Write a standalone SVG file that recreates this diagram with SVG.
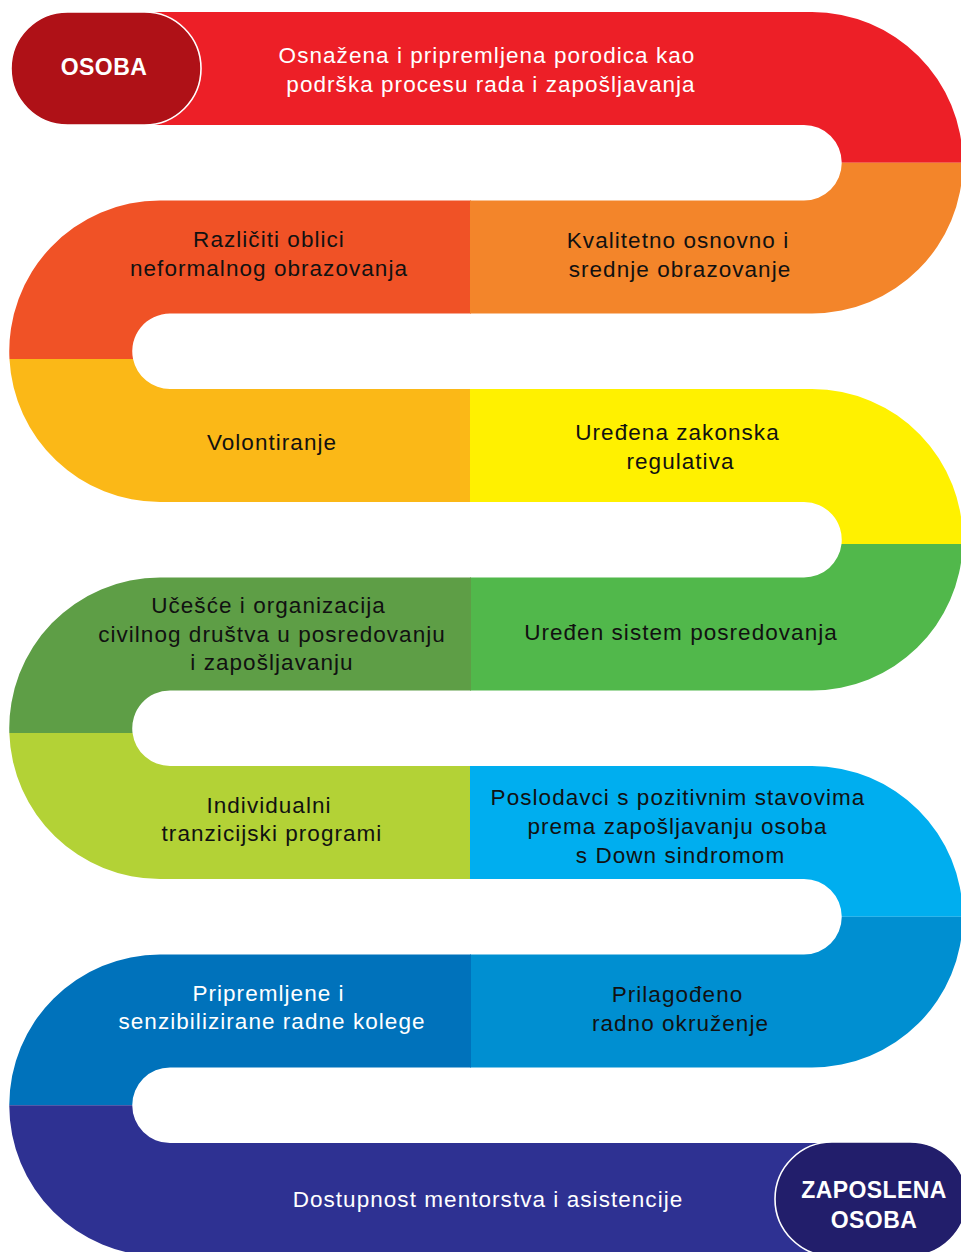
<svg xmlns="http://www.w3.org/2000/svg" width="961" height="1252" viewBox="0 0 961 1252">
<style>
.t{font-family:"Liberation Sans",Arial,Helvetica,sans-serif;font-size:22.5px;letter-spacing:1.05px;text-anchor:middle}
.w{fill:#ffffff}
.k{fill:#111111}
.b{font-family:"Liberation Sans",Arial,Helvetica,sans-serif;font-size:23px;font-weight:bold;letter-spacing:0.4px;text-anchor:middle;fill:#ffffff}
.pill{stroke:#ffffff;stroke-width:1.6}
</style>
<rect width="961" height="1252" fill="#ffffff"/>

<g id="row0-osnazena">
<path d="M150,12 H812 A150.75 150.75 0 0 1 962.75,162.75 H841.75 A37.75 37.75 0 0 0 804,125 H150 Z" fill="#ED1F27"/>
<text class="t w" x="487" y="63">Osnažena i pripremljena porodica kao</text>
<text class="t w" x="491" y="91.5">podrška procesu rada i zapošljavanja</text>
</g>

<g id="start-osoba">
<rect class="pill" x="11" y="12" width="190" height="113" rx="56.5" fill="#AF1117"/>
<text class="b" x="104" y="75">OSOBA</text>
</g>

<g id="row1-left-neformalno">
<path d="M471,200.5 H160 A150.75 150.75 0 0 0 9.45,359 H133.05 A37.75 37.75 0 0 1 170,313.5 H471 Z" fill="#F05226"/>
<text class="t k" x="269" y="246.5">Različiti oblici</text>
<text class="t k" x="269" y="275.5">neformalnog obrazovanja</text>
</g>

<g id="row1-right-obrazovanje">
<path d="M962.75,162.75 A150.75 150.75 0 0 1 812,313.5 H470 V200.5 H804 A37.75 37.75 0 0 0 841.75,162.75 Z" fill="#F3852A"/>
<text class="t k" x="678" y="248">Kvalitetno osnovno i</text>
<text class="t k" x="680" y="277">srednje obrazovanje</text>
</g>

<g id="row2-left-volontiranje">
<path d="M9.45,359 A150.75 150.75 0 0 0 160,502 H471 V389 H170 A37.75 37.75 0 0 1 133.05,359 Z" fill="#FBB817"/>
<text class="t k" x="272" y="450">Volontiranje</text>
</g>

<g id="row2-right-regulativa">
<path d="M470,389 H812 A150.75 150.75 0 0 1 962.69,544 H841.51 A37.75 37.75 0 0 0 804,502 H470 Z" fill="#FFF100"/>
<text class="t k" x="677.5" y="440">Uređena zakonska</text>
<text class="t k" x="680.5" y="469">regulativa</text>
</g>

<g id="row3-right-posredovanje">
<path d="M962.69,544 A150.75 150.75 0 0 1 812,690.5 H470 V577.5 H804 A37.75 37.75 0 0 0 841.51,544 Z" fill="#51B84B"/>
<text class="t k" x="681" y="640">Uređen sistem posredovanja</text>
</g>

<g id="row3-left-civilno-drustvo">
<path d="M471,577.5 H160 A150.75 150.75 0 0 0 9.32,733 H132.55 A37.75 37.75 0 0 1 170,690.5 H471 Z" fill="#5E9E46"/>
<text class="t k" x="268.5" y="612.5">Učešće i organizacija</text>
<text class="t k" x="272" y="641.5">civilnog društva u posredovanju</text>
<text class="t k" x="272" y="670">i zapošljavanju</text>
</g>

<g id="row4-left-tranzicijski">
<path d="M9.32,733 A150.75 150.75 0 0 0 160,879 H471 V766 H170 A37.75 37.75 0 0 1 132.55,733 Z" fill="#B3D236"/>
<text class="t k" x="269" y="812.5">Individualni</text>
<text class="t k" x="272" y="841">tranzicijski programi</text>
</g>

<g id="row4-right-poslodavci">
<path d="M470,766 H812 A150.75 150.75 0 0 1 962.75,916.75 H841.75 A37.75 37.75 0 0 0 804,879 H470 Z" fill="#00AEEF"/>
<text class="t k" x="678" y="805">Poslodavci s pozitivnim stavovima</text>
<text class="t k" x="677.5" y="834">prema zapošljavanju osoba</text>
<text class="t k" x="680.5" y="863">s Down sindromom</text>
</g>

<g id="row5-right-okruzenje">
<path d="M962.75,916.75 A150.75 150.75 0 0 1 812,1067.5 H470 V954.5 H804 A37.75 37.75 0 0 0 841.75,916.75 Z" fill="#008FD1"/>
<text class="t k" x="677.5" y="1002">Prilagođeno</text>
<text class="t k" x="680.5" y="1030.5">radno okruženje</text>
</g>

<g id="row5-left-kolege">
<path d="M471,954.5 H160 A150.75 150.75 0 0 0 9.25,1105.25 H132.25 A37.75 37.75 0 0 1 170,1067.5 H471 Z" fill="#0072BB"/>
<text class="t w" x="268.5" y="1000.5">Pripremljene i</text>
<text class="t w" x="272" y="1029">senzibilizirane radne kolege</text>
</g>

<g id="row6-mentorstvo">
<path d="M9.25,1105.25 A150.75 150.75 0 0 0 160,1256 H880 V1143 H170 A37.75 37.75 0 0 1 132.25,1105.25 Z" fill="#2E3192"/>
<text class="t w" x="488" y="1207">Dostupnost mentorstva i asistencije</text>
</g>

<g id="end-zaposlena-osoba">
<rect class="pill" x="775" y="1142" width="192" height="114" rx="57" fill="#221E6B"/>
<text class="b" x="874" y="1198">ZAPOSLENA</text>
<text class="b" x="874" y="1228">OSOBA</text>
</g>
</svg>
